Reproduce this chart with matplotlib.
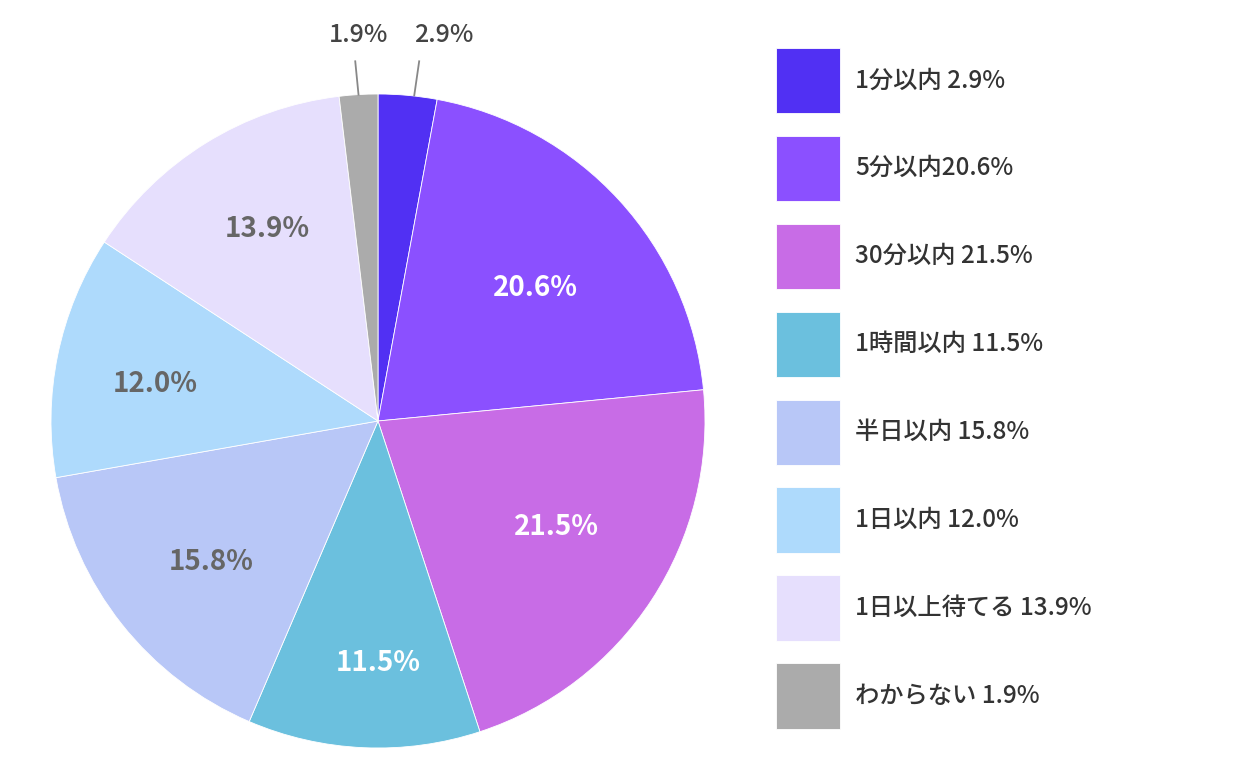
import matplotlib
matplotlib.use("Agg")
import matplotlib.pyplot as plt
import numpy as np

plt.rcParams['font.family'] = ['Noto Sans CJK JP', 'DejaVu Sans']

categories = ["1分以内", "5分以内", "30分以内", "1時間以内", "半日以内", "1日以内", "1日以上待てる", "わからない"]
values = [2.9, 20.6, 21.5, 11.5, 15.8, 12.0, 13.9, 1.9]
legend_labels = ["1分以内 2.9%", "5分以内20.6%", "30分以内 21.5%", "1時間以内 11.5%",
                 "半日以内 15.8%", "1日以内 12.0%", "1日以上待てる 13.9%", "わからない 1.9%"]
colors = ["#5130F3", "#8B50FF", "#C86CE6", "#6BC0DE", "#B8C7F7", "#AEDAFC", "#E6DFFD", "#ABABAB"]
label_colors = ["#444444", "white", "white", "white", "#666666", "#666666", "#666666", "#444444"]
# label anchor positions (in pie radius units) for the inside labels
label_pos = [None, (0.483, 0.407), (0.547, -0.324), (0.0, -0.740), (-0.511, -0.431),
             (-0.682, 0.113), (-0.339, 0.587), None]

fig = plt.figure(figsize=(12.4, 7.79), dpi=100)
fig.patch.set_facecolor("white")

cx, cy, r = 378, 421, 327
W, H = 1240, 779
ax = fig.add_axes([(cx - r) / W, (H - cy - r) / H, 2 * r / W, 2 * r / H])

wedges, _ = ax.pie(values, colors=colors, startangle=90, counterclock=False,
                   radius=1.0, wedgeprops=dict(edgecolor="white", linewidth=0.6))
ax.set_xlim(-1, 1)
ax.set_ylim(-1, 1)
ax.set_aspect("equal")
ax.axis("off")

for i, (v, w) in enumerate(zip(values, wedges)):
    mid = np.deg2rad((w.theta1 + w.theta2) / 2)
    txt = f"{v:.1f}%"
    if label_pos[i] is None:
        ex, ey = np.cos(mid), np.sin(mid)
        right = np.cos(mid) > 0
        x0 = ex + (0.02 if right else 0.0)
        x1 = x0 + (0.015 if right else -0.01)
        ax.plot([x0, x1], [ey, 1.10], color="#888888", lw=1.3, clip_on=False)
        ax.text(ex + (0.11 if right else 0.0), 1.18, txt, ha="center", va="center",
                fontsize=18, color="#444444", fontweight="medium", clip_on=False)
    else:
        px, py = label_pos[i]
        ax.text(px, py, txt, ha="center", va="center",
                fontsize=20, color=label_colors[i], fontweight="bold")

fs = 17.5
fs_px = fs * 100 / 72
leg = fig.legend(wedges, legend_labels, loc="upper left",
                 bbox_to_anchor=(776 / W, 1 - 48 / H), bbox_transform=fig.transFigure,
                 frameon=False, fontsize=fs, handlelength=64 / fs_px,
                 handleheight=64 / (0.7 * fs_px),
                 labelspacing=22.5 / fs_px, handletextpad=15 / fs_px, borderpad=0, borderaxespad=0)
for t in leg.get_texts():
    t.set_color("#333333")
    t.set_fontweight("medium")

fig.savefig("out.png", dpi=100, facecolor="white")
